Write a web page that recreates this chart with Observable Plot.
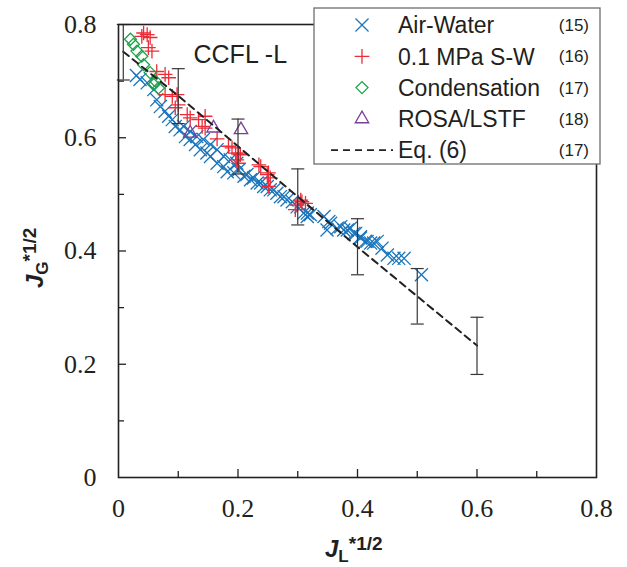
<!DOCTYPE html>
<html><head><meta charset="utf-8">
<script src="https://cdn.jsdelivr.net/npm/d3@7"></script>
<script src="https://cdn.jsdelivr.net/npm/@observablehq/plot@0.6"></script>
<style>
body{margin:0;background:#fff}
svg g[aria-label="x-axis tick label"] text, svg g[aria-label="y-axis tick label"] text, text.serif-tick {font-family: "Liberation Serif", "DejaVu Serif", "Times New Roman", serif !important;}
</style>
</head><body><div id="chart"></div>
<script>
// Air-Water (15)
const awX = [0.030,0.036,0.048,0.059,0.064,0.070,0.078,0.084,0.090,0.095,0.103,0.109,0.112,0.120,0.120,0.129,0.131,0.137,0.142,0.148,0.154,0.154,0.165,0.165,0.176,0.176,0.182,0.187,0.193,0.198,0.201,0.210,0.215,0.221,0.226,0.232,0.238,0.243,0.249,0.254,0.260,0.265,0.271,0.277,0.282,0.291,0.299,0.305,0.310,0.316,0.316,0.321,0.344,0.349,0.352,0.355,0.366,0.372,0.377,0.383,0.388,0.394,0.397,0.405,0.405,0.413,0.416,0.422,0.427,0.433,0.441,0.450,0.461,0.469,0.478,0.507];
const awY = [0.710,0.703,0.697,0.685,0.667,0.655,0.647,0.638,0.632,0.620,0.614,0.620,0.602,0.611,0.597,0.588,0.602,0.579,0.597,0.573,0.588,0.567,0.579,0.555,0.567,0.549,0.540,0.561,0.538,0.555,0.543,0.532,0.535,0.526,0.529,0.520,0.520,0.514,0.514,0.508,0.508,0.502,0.496,0.496,0.490,0.487,0.478,0.478,0.467,0.467,0.461,0.464,0.461,0.437,0.452,0.449,0.440,0.443,0.437,0.437,0.440,0.431,0.431,0.425,0.423,0.417,0.417,0.414,0.414,0.417,0.405,0.393,0.387,0.387,0.387,0.358];
// 0.1 MPa S-W (16)
const swX = [0.039,0.042,0.048,0.053,0.050,0.056,0.064,0.078,0.084,0.078,0.090,0.098,0.100,0.095,0.115,0.120,0.134,0.145,0.140,0.145,0.165,0.184,0.190,0.196,0.201,0.204,0.198,0.201,0.235,0.238,0.249,0.251,0.254,0.251,0.296,0.299,0.305,0.307,0.313];
const swY = [0.779,0.785,0.782,0.777,0.759,0.753,0.717,0.712,0.706,0.676,0.673,0.676,0.658,0.653,0.641,0.635,0.632,0.638,0.620,0.617,0.598,0.585,0.582,0.573,0.573,0.570,0.561,0.555,0.552,0.549,0.535,0.538,0.529,0.514,0.473,0.481,0.490,0.487,0.484];
// Condensation (17)
const cdX = [0.020,0.025,0.031,0.039,0.042,0.053,0.059,0.062,0.067];
const cdY = [0.774,0.765,0.753,0.744,0.729,0.715,0.694,0.700,0.688];
// ROSA/LSTF (18)
const rsX = [0.120,0.159,0.205];
const rsY = [0.608,0.617,0.614];
// Eq. (6) (17)
const eqX = [0.008,0.1,0.2,0.3,0.4,0.5,0.6];
const eqY = [0.752,0.674,0.585,0.496,0.407,0.320,0.233];
// error bars
const errX  = [0.008,0.1,0.2,0.3,0.4,0.5,0.6];
const errLo = [0.702,0.625,0.536,0.446,0.358,0.271,0.182];
const errHi = [0.800,0.722,0.633,0.545,0.457,0.369,0.283];
// ticks
const xTicks = [0,0.2,0.4,0.6,0.8];
const xTickLabels = ["0","0.2","0.4","0.6","0.8"];
const yTicks = [0,0.2,0.4,0.6,0.8];
const yTickLabels = ["0","0.2","0.4","0.6","0.8"];
const minorTicks = [0.1,0.3,0.5,0.7];
const majorTicks = [0.2,0.4,0.6];
// legend
const seriesNames = ["Air-Water","0.1 MPa S-W","Condensation","ROSA/LSTF","Eq. (6)"];
const seriesRefs = ["(15)","(16)","(17)","(18)","(17)"];
const seriesColors = ["#1b75bb","#ec2d38","#1da24a","#7b3f98","#231f20"];
const annotation = "CCFL -L";

const pts = (xs, ys) => xs.map((x, i) => ({x, y: ys[i]}));
const errPts = errX.map((x, i) => ({x, lo: errLo[i], hi: errHi[i]}));
const capSymbol = {draw(ctx, size){const r = Math.sqrt(size/Math.PI); ctx.moveTo(-r,0); ctx.lineTo(r,0);}};

const W = 627, H = 567, mL = 118, mR = 31, mT = 24, mB = 90;
const ink = "#231f20";
const serif = "Liberation Serif, DejaVu Serif, Times New Roman, serif";
const sans = "Liberation Sans, Arial, sans-serif";

const svg = Plot.plot({
  width: W, height: H,
  marginLeft: mL, marginRight: mR, marginTop: mT, marginBottom: mB,
  style: {fontFamily: sans, background: "#fff", color: ink},
  x: {domain: [0, 0.8]},
  y: {domain: [0, 0.8]},
  marks: [
    Plot.axisX(xTicks, {tickSize: 0, tickPadding: 21, tickFormat: d => xTickLabels[xTicks.indexOf(d)], fontSize: 26, fontFamily: serif, fill: ink, label: null}),
    Plot.axisY(yTicks, {tickSize: 0, tickPadding: 22, tickFormat: d => yTickLabels[yTicks.indexOf(d)], fontSize: 26, fontFamily: serif, fill: ink, label: null}),
    Plot.tickX(minorTicks, {x: d => d, insetTop: (H - mT - mB) - 6, stroke: ink, strokeWidth: 1.3}),
    Plot.tickX(majorTicks, {x: d => d, insetTop: (H - mT - mB) - 8, stroke: ink, strokeWidth: 1.3}),
    Plot.tickY(minorTicks, {y: d => d, insetRight: (W - mL - mR) - 6, stroke: ink, strokeWidth: 1.3}),
    Plot.tickY(majorTicks, {y: d => d, insetRight: (W - mL - mR) - 8, stroke: ink, strokeWidth: 1.3}),
    Plot.dot(pts(awX, awY), {x: "x", y: "y", symbol: "times", r: 6, stroke: seriesColors[0], strokeWidth: 1.3, fill: "none"}),
    Plot.dot(pts(swX, swY), {x: "x", y: "y", symbol: "plus", r: 4.8, stroke: seriesColors[1], strokeWidth: 1.3, fill: "none"}),
    Plot.dot(pts(cdX, cdY), {x: "x", y: "y", symbol: "diamond2", r: 5.4, stroke: seriesColors[2], strokeWidth: 1.3, fill: "none"}),
    Plot.dot(pts(rsX, rsY), {x: "x", y: "y", symbol: "triangle2", r: 6.4, stroke: seriesColors[3], strokeWidth: 1.3, fill: "none"}),
    Plot.line(pts(eqX, eqY), {x: "x", y: "y", stroke: ink, strokeWidth: 2, strokeDasharray: "7,5"}),
    Plot.ruleX(errPts, {x: "x", y1: "lo", y2: "hi", stroke: "#3a3536", strokeWidth: 1.2}),
    Plot.dot(errPts, {x: "x", y: "lo", symbol: capSymbol, r: 6.5, stroke: "#3a3536", strokeWidth: 1.2}),
    Plot.dot(errPts, {x: "x", y: "hi", symbol: capSymbol, r: 6.5, stroke: "#3a3536", strokeWidth: 1.2}),
    Plot.frame({stroke: ink, strokeWidth: 1.6}),
    Plot.text([annotation], {text: d => d, frameAnchor: "top-left", dx: 75, dy: 21, textAnchor: "start", fontSize: 25, fill: ink})
  ]
});

const s = d3.select(svg);
// serif tick labels: mark every text node holding a tick label before other texts are added
s.selectAll("text").each(function() {
  const t = (this.textContent || "").trim();
  if (xTickLabels.includes(t) || yTickLabels.includes(t)) {
    this.classList.add("serif-tick");
    this.setAttribute("font-family", serif);
    this.style.setProperty("font-family", serif, "important");
  }
});

// axis titles
function addTitle(g, sub) {
  const t = g.append("text").attr("fill", ink).attr("font-family", sans).attr("font-weight", "bold").attr("text-anchor", "start");
  t.append("tspan").attr("font-style", "italic").attr("font-size", 24).text("J");
  t.append("tspan").attr("font-size", 17).attr("dy", 5).text(sub);
  t.append("tspan").attr("font-size", 19).attr("dy", -12).text("*1/2");
}
addTitle(s.append("g").attr("transform", "translate(325,557)"), "L");
addTitle(s.append("g").attr("transform", "translate(43,288) rotate(-90)"), "G");

// legend
const lg = s.append("g").attr("text-anchor", "start").attr("font-family", sans);
lg.append("rect").attr("x", 314).attr("y", 8).attr("width", 286).attr("height", 156)
  .attr("fill", "#fff").attr("stroke", "#6d6e71").attr("stroke-width", 1.3);
const symTypes = [d3.symbolTimes, d3.symbolPlus, d3.symbolDiamond2, d3.symbolTriangle2];
const symR = [6, 4.8, 5.4, 6.4];
seriesNames.forEach((name, i) => {
  const cy = 25 + i * 31.3;
  if (i < 4) {
    lg.append("path").attr("transform", `translate(362,${cy})`)
      .attr("d", d3.symbol(symTypes[i], Math.PI * symR[i] * symR[i])())
      .attr("fill", "none").attr("stroke", seriesColors[i]).attr("stroke-width", 1.3);
  } else {
    lg.append("line").attr("x1", 331).attr("x2", 393).attr("y1", cy).attr("y2", cy)
      .attr("stroke", ink).attr("stroke-width", 1.8).attr("stroke-dasharray", "7,5");
  }
  lg.append("text").attr("x", 398).attr("y", cy).attr("dy", "0.36em").attr("text-anchor", "start").attr("font-size", 23).attr("fill", ink).text(name);
  lg.append("text").attr("x", 589).attr("y", cy).attr("dy", "0.36em").attr("text-anchor", "end").attr("font-size", 17).attr("fill", ink).text(seriesRefs[i]);
});

document.getElementById("chart").appendChild(svg);
</script>
</body></html>
